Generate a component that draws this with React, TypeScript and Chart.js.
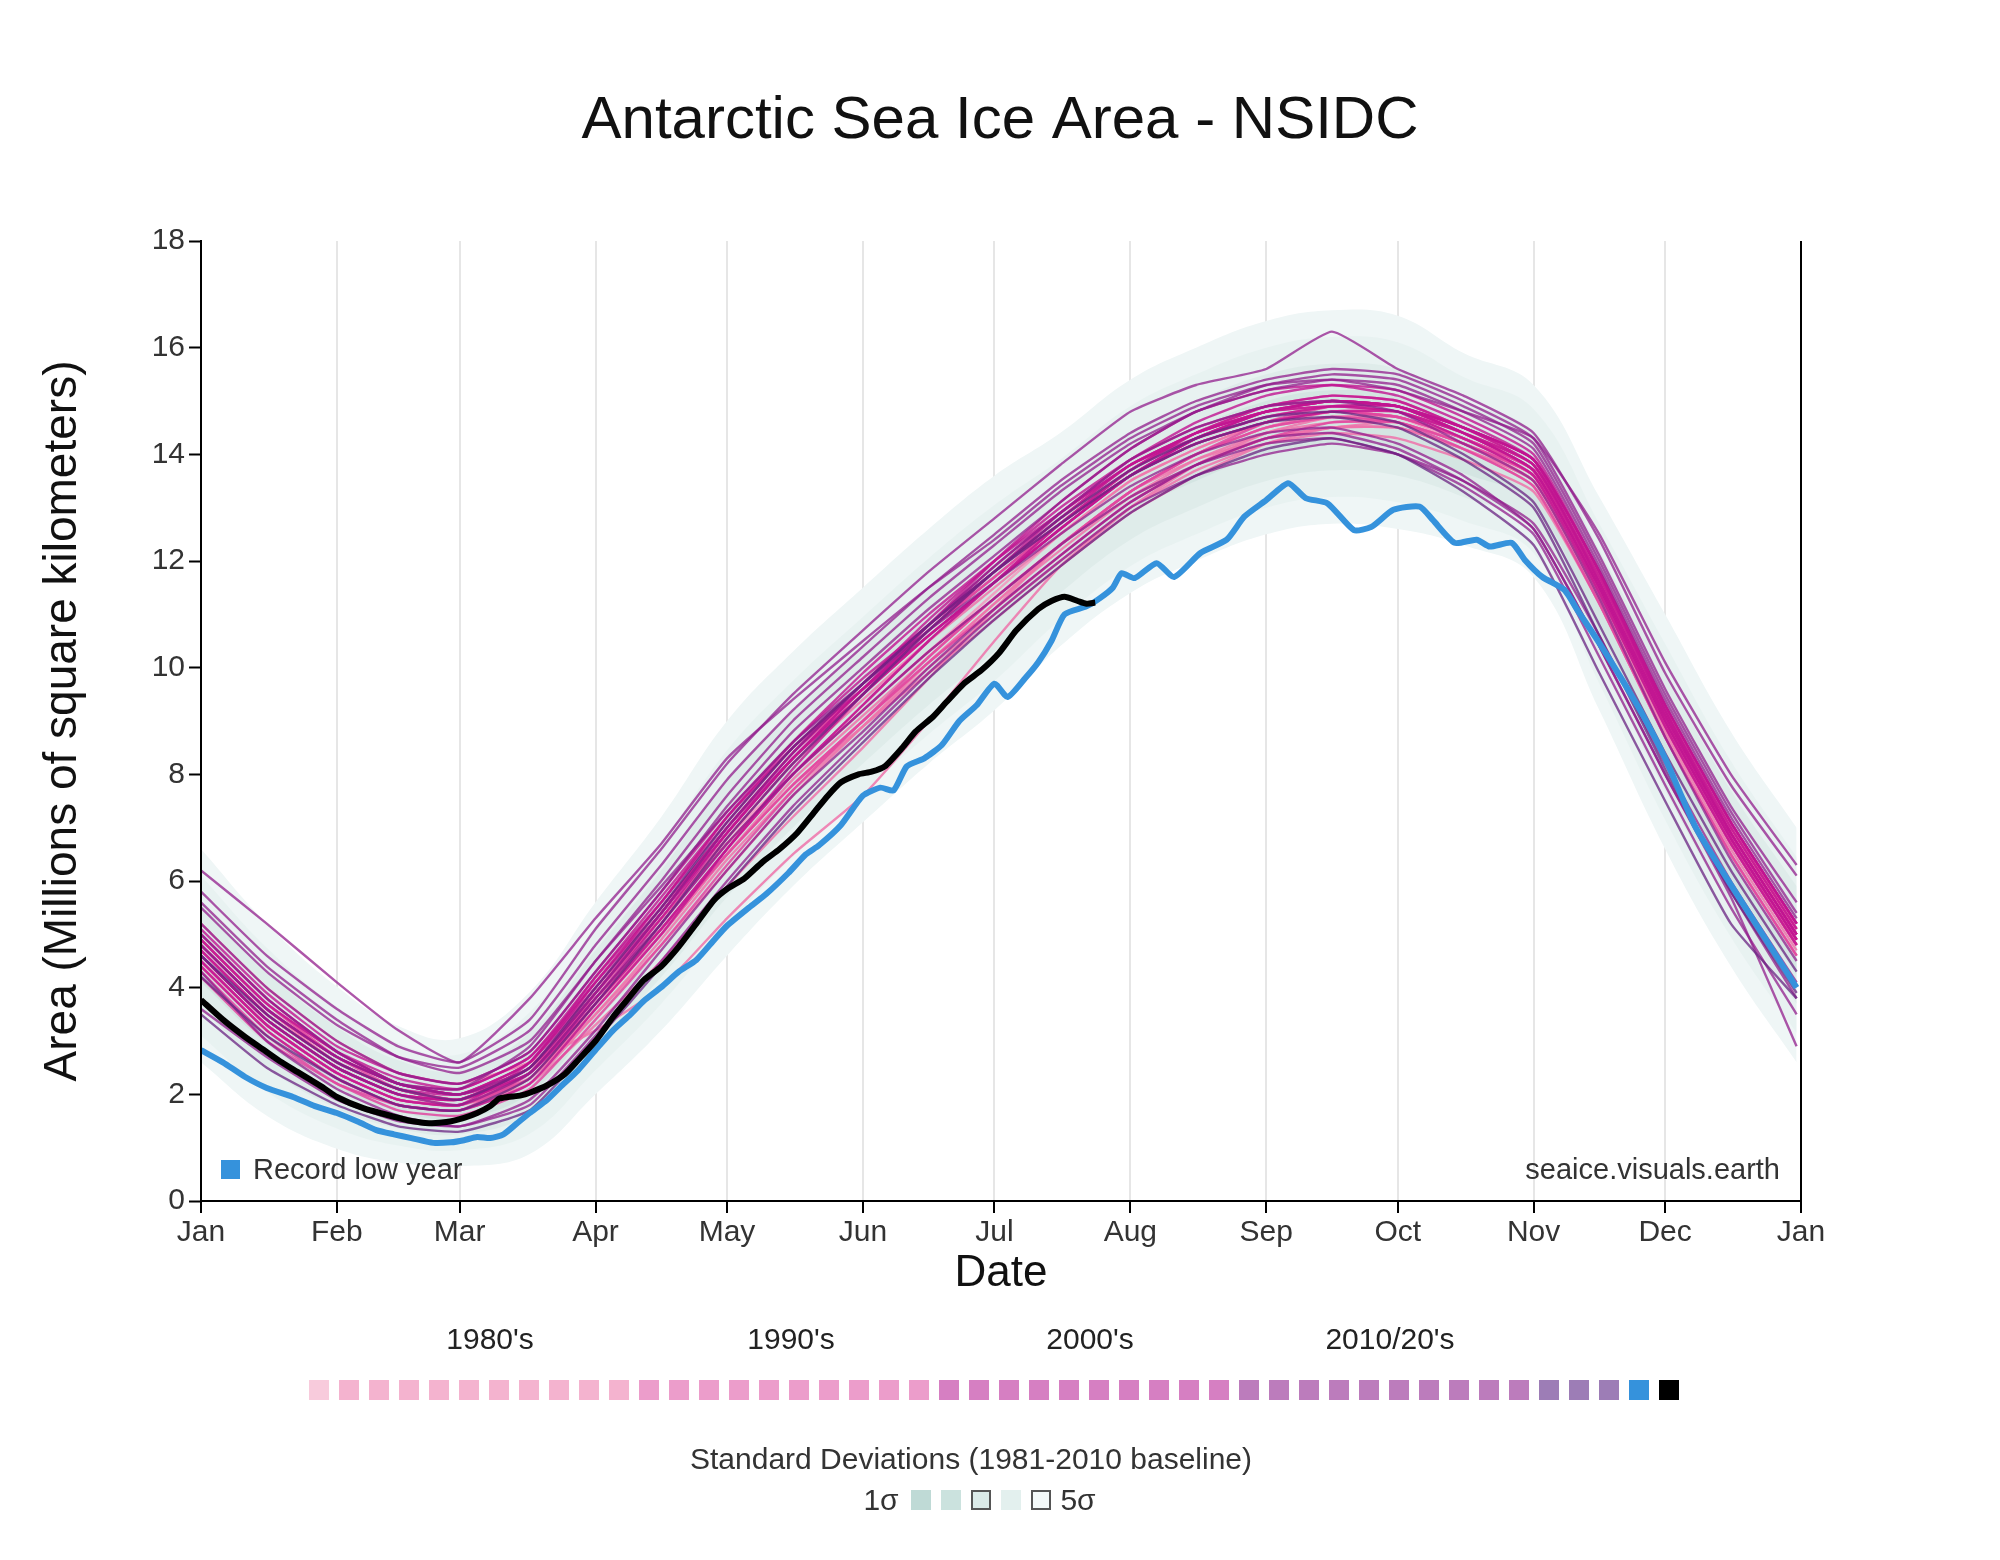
import React, { useEffect, useRef } from 'react';
import { Chart, registerables } from 'chart.js';

Chart.register(...registerables);

const FONT = "'Liberation Sans', Arial, Helvetica, sans-serif";

// ---- axis / tick data ----
const MONTH_LABELS = ['Jan', 'Feb', 'Mar', 'Apr', 'May', 'Jun', 'Jul', 'Aug', 'Sep', 'Oct', 'Nov', 'Dec', 'Jan'];
const MONTH_DAYS = [0, 31, 59, 90, 120, 151, 181, 212, 243, 273, 304, 334, 365];

// ---- sampling days for yearly series and baseline ----
const SAMPLE_DAYS = [0, 15, 31, 45, 59, 75, 90, 105, 120, 135, 151, 166, 181, 196, 212, 227, 243, 258, 273, 288, 304, 319, 334, 349, 364];

// 1981-2010 baseline mean and standard deviation (millions of km²)
const BASELINE_MEAN = [4.6, 3.4, 2.5, 2.0, 1.85, 2.4, 3.8, 5.2, 6.8, 8.1, 9.3, 10.4, 11.4, 12.4, 13.4, 14.0, 14.5, 14.7, 14.6, 14.1, 13.5, 11.2, 8.8, 6.6, 4.8];
const BASELINE_SD = [0.5, 0.45, 0.38, 0.32, 0.3, 0.38, 0.45, 0.5, 0.55, 0.55, 0.55, 0.55, 0.55, 0.5, 0.5, 0.5, 0.5, 0.5, 0.5, 0.45, 0.45, 0.5, 0.55, 0.55, 0.55];

// ---- yearly series ----
const Y1979 = [4.9, 3.7, 2.7, 2.2, 2.0, 2.5, 3.9, 5.3, 6.8, 8.0, 9.2, 10.3, 11.4, 12.5, 13.5, 14.1, 14.6, 14.8, 14.7, 14.2, 13.6, 11.5, 9.0, 6.9, 5.1];
const Y1980 = [5.2, 4.0, 3.0, 2.4, 2.2, 2.6, 3.2, 4.0, 5.3, 6.5, 7.6, 9.0, 10.5, 11.9, 13.0, 13.8, 14.4, 14.7, 14.7, 14.3, 13.7, 11.7, 9.2, 7.0, 5.2];
const Y1981 = [4.8, 3.6, 2.6, 2.1, 1.9, 2.3, 3.6, 5.0, 6.5, 7.8, 9.0, 10.1, 11.2, 12.3, 13.3, 13.9, 14.3, 14.5, 14.5, 14.1, 13.5, 11.4, 8.9, 6.7, 4.8];
const Y1982 = [4.5, 3.3, 2.4, 1.9, 1.8, 2.2, 3.3, 4.5, 5.9, 7.2, 8.5, 9.8, 11.1, 12.3, 13.3, 14.0, 14.5, 14.8, 14.7, 14.3, 13.7, 11.6, 9.1, 6.9, 5.0];
const Y1983 = [4.7, 3.5, 2.6, 2.1, 1.9, 2.4, 3.7, 5.0, 6.5, 7.9, 9.1, 10.2, 11.3, 12.3, 13.2, 13.8, 14.3, 14.5, 14.6, 14.2, 13.6, 11.5, 9.0, 6.8, 4.9];
const Y1984 = [4.6, 3.4, 2.5, 2.0, 1.8, 2.3, 3.5, 4.8, 6.2, 7.6, 8.9, 10.0, 11.0, 12.0, 13.0, 13.7, 14.2, 14.4, 14.3, 13.9, 13.3, 11.2, 8.7, 6.5, 4.6];
const Y1985 = [4.4, 3.2, 2.3, 1.8, 1.7, 2.3, 3.7, 5.2, 6.8, 8.2, 9.4, 10.5, 11.5, 12.5, 13.5, 14.1, 14.6, 14.8, 14.8, 14.4, 13.8, 11.7, 9.2, 7.0, 5.1];
const Y1986 = [5.0, 3.8, 2.8, 2.2, 2.0, 2.5, 3.8, 5.1, 6.5, 7.8, 8.9, 9.9, 10.9, 11.9, 12.9, 13.6, 14.2, 14.5, 14.5, 14.1, 13.5, 11.4, 8.9, 6.7, 4.8];
const Y1987 = [4.6, 3.4, 2.5, 2.0, 1.9, 2.5, 3.9, 5.3, 6.7, 8.0, 9.2, 10.3, 11.3, 12.3, 13.3, 14.0, 14.5, 14.7, 14.6, 14.2, 13.5, 11.3, 8.8, 6.6, 4.7];
const Y1988 = [4.5, 3.3, 2.4, 1.9, 1.8, 2.3, 3.6, 5.0, 6.5, 7.8, 9.0, 10.1, 11.1, 12.1, 13.1, 13.8, 14.3, 14.5, 14.5, 14.1, 13.4, 11.2, 8.7, 6.5, 4.6];
const Y1989 = [4.4, 3.2, 2.3, 1.8, 1.7, 2.2, 3.5, 4.9, 6.4, 7.7, 8.9, 10.1, 11.2, 12.2, 13.2, 13.9, 14.4, 14.6, 14.6, 14.2, 13.6, 11.4, 8.9, 6.7, 4.8];
const Y1990 = [4.3, 3.1, 2.2, 1.8, 1.7, 2.4, 3.9, 5.4, 7.0, 8.4, 9.6, 10.7, 11.7, 12.7, 13.6, 14.2, 14.6, 14.8, 14.7, 14.3, 13.7, 11.6, 9.1, 6.9, 5.0];
const Y1991 = [4.9, 3.7, 2.7, 2.1, 1.9, 2.4, 3.8, 5.2, 6.7, 8.0, 9.2, 10.3, 11.3, 12.3, 13.3, 14.0, 14.5, 14.7, 14.6, 14.1, 13.4, 11.2, 8.7, 6.5, 4.6];
const Y1992 = [4.2, 3.0, 2.2, 1.7, 1.6, 2.1, 3.4, 4.8, 6.3, 7.7, 9.0, 10.2, 11.3, 12.3, 13.3, 14.0, 14.6, 14.9, 14.9, 14.5, 13.9, 11.8, 9.3, 7.1, 5.2];
const Y1993 = [4.7, 3.5, 2.6, 2.1, 1.9, 2.5, 4.0, 5.5, 7.0, 8.4, 9.6, 10.7, 11.7, 12.7, 13.7, 14.4, 14.9, 15.1, 15.0, 14.5, 13.8, 11.6, 9.1, 6.8, 4.9];
const Y1994 = [4.5, 3.3, 2.4, 1.9, 1.8, 2.4, 3.9, 5.4, 6.9, 8.3, 9.5, 10.6, 11.6, 12.6, 13.6, 14.3, 14.8, 15.0, 14.9, 14.4, 13.7, 11.5, 9.0, 6.8, 4.9];
const Y1995 = [4.6, 3.4, 2.5, 2.0, 1.9, 2.5, 3.9, 5.3, 6.8, 8.2, 9.5, 10.7, 11.8, 12.8, 13.8, 14.4, 14.8, 14.9, 14.8, 14.3, 13.6, 11.4, 8.9, 6.7, 4.8];
const Y1996 = [4.8, 3.6, 2.7, 2.2, 2.0, 2.6, 4.1, 5.6, 7.2, 8.5, 9.7, 10.8, 11.8, 12.8, 13.7, 14.3, 14.7, 14.9, 14.8, 14.4, 13.8, 11.7, 9.2, 7.0, 5.1];
const Y1997 = [4.9, 3.7, 2.8, 2.2, 2.0, 2.5, 3.8, 5.1, 6.5, 7.8, 9.0, 10.1, 11.1, 12.1, 13.1, 13.8, 14.3, 14.6, 14.6, 14.2, 13.6, 11.5, 9.0, 6.8, 4.9];
const Y1998 = [4.5, 3.3, 2.4, 1.9, 1.8, 2.3, 3.7, 5.1, 6.6, 8.0, 9.3, 10.5, 11.6, 12.7, 13.7, 14.4, 14.8, 15.0, 14.9, 14.4, 13.7, 11.5, 8.9, 6.7, 4.8];
const Y1999 = [4.7, 3.5, 2.6, 2.1, 1.9, 2.5, 3.9, 5.4, 6.9, 8.3, 9.5, 10.6, 11.6, 12.6, 13.6, 14.2, 14.6, 14.8, 14.7, 14.3, 13.7, 11.6, 9.1, 6.9, 5.0];
const Y2000 = [4.8, 3.6, 2.7, 2.2, 2.1, 2.7, 4.2, 5.6, 7.1, 8.5, 9.7, 10.8, 11.8, 12.7, 13.6, 14.2, 14.6, 14.8, 14.8, 14.4, 13.8, 11.7, 9.2, 7.0, 5.1];
const Y2001 = [5.1, 3.9, 2.9, 2.4, 2.2, 2.8, 4.3, 5.8, 7.3, 8.6, 9.8, 10.8, 11.8, 12.8, 13.8, 14.3, 14.7, 14.9, 14.9, 14.5, 13.9, 11.8, 9.3, 7.1, 5.2];
const Y2002 = [5.0, 3.8, 2.8, 2.2, 2.0, 2.4, 3.7, 5.1, 6.6, 8.0, 9.3, 10.5, 11.6, 12.7, 13.7, 14.4, 14.9, 15.1, 15.0, 14.5, 13.8, 11.6, 9.1, 6.9, 5.0];
const Y2003 = [4.9, 3.7, 2.8, 2.3, 2.1, 2.7, 4.1, 5.5, 7.0, 8.3, 9.5, 10.6, 11.6, 12.6, 13.6, 14.3, 14.8, 15.0, 14.9, 14.4, 13.7, 11.5, 9.0, 6.8, 4.9];
const Y2004 = [4.6, 3.4, 2.5, 2.0, 1.9, 2.5, 3.9, 5.4, 7.0, 8.4, 9.7, 10.9, 12.0, 13.0, 13.9, 14.5, 14.9, 15.0, 14.9, 14.4, 13.7, 11.5, 9.0, 6.8, 4.9];
const Y2005 = [4.7, 3.5, 2.6, 2.1, 2.0, 2.6, 4.1, 5.6, 7.2, 8.6, 9.9, 11.0, 12.0, 12.9, 13.8, 14.4, 14.8, 15.0, 14.9, 14.5, 13.9, 11.8, 9.3, 7.1, 5.2];
const Y2006 = [4.4, 3.2, 2.3, 1.8, 1.7, 2.2, 3.6, 5.0, 6.6, 8.1, 9.5, 10.8, 12.0, 13.1, 14.1, 14.8, 15.2, 15.3, 15.1, 14.6, 13.9, 11.6, 9.1, 6.9, 5.0];
const Y2007 = [4.8, 3.6, 2.7, 2.2, 2.0, 2.6, 4.0, 5.4, 6.9, 8.3, 9.6, 10.7, 11.8, 12.9, 13.9, 14.6, 15.1, 15.3, 15.2, 14.7, 14.0, 11.8, 9.2, 6.9, 5.0];
const Y2008 = [4.5, 3.3, 2.4, 1.9, 1.8, 2.6, 4.2, 5.7, 7.2, 8.5, 9.6, 10.6, 11.6, 12.6, 13.6, 14.3, 14.8, 15.0, 14.9, 14.5, 13.9, 11.8, 9.3, 7.1, 5.2];
const Y2009 = [4.6, 3.4, 2.5, 2.0, 1.9, 2.4, 3.8, 5.3, 6.9, 8.3, 9.6, 10.8, 11.9, 12.9, 13.8, 14.4, 14.8, 14.9, 14.8, 14.3, 13.6, 11.4, 8.9, 6.7, 4.8];
const Y2010 = [5.2, 4.0, 3.0, 2.4, 2.2, 2.8, 4.3, 5.8, 7.4, 8.8, 10.0, 11.1, 12.1, 13.1, 14.1, 14.8, 15.2, 15.4, 15.3, 14.8, 14.1, 11.9, 9.4, 7.2, 5.3];
const Y2011 = [5.0, 3.8, 2.8, 2.2, 2.0, 2.5, 3.9, 5.4, 7.0, 8.4, 9.7, 10.8, 11.9, 12.9, 13.9, 14.5, 14.9, 15.0, 14.8, 14.2, 13.5, 11.3, 8.7, 6.4, 4.5];
const Y2012 = [4.8, 3.6, 2.7, 2.2, 2.1, 2.9, 4.5, 6.0, 7.6, 9.0, 10.2, 11.3, 12.3, 13.3, 14.2, 14.8, 15.3, 15.5, 15.4, 14.9, 14.2, 12.0, 9.5, 7.3, 5.4];
const Y2013 = [5.5, 4.3, 3.3, 2.7, 2.5, 3.2, 4.8, 6.3, 7.9, 9.2, 10.4, 11.5, 12.5, 13.5, 14.4, 15.0, 15.4, 15.6, 15.5, 15.0, 14.3, 12.1, 9.6, 7.4, 5.6];
const Y2014 = [5.8, 4.6, 3.6, 2.9, 2.6, 3.4, 5.1, 6.6, 8.2, 9.5, 10.7, 11.8, 12.8, 13.8, 14.8, 15.3, 15.6, 16.3, 15.6, 15.1, 14.4, 12.4, 9.9, 7.8, 6.1];
const Y2015 = [6.2, 5.2, 4.1, 3.2, 2.6, 3.8, 5.3, 6.7, 8.3, 9.4, 10.5, 11.5, 12.4, 13.4, 14.3, 14.9, 15.3, 15.4, 15.2, 14.8, 14.3, 12.5, 10.1, 8.0, 6.3];
const Y2016 = [5.6, 4.4, 3.4, 2.7, 2.4, 3.0, 4.5, 5.9, 7.3, 8.6, 9.7, 10.7, 11.6, 12.5, 13.4, 14.0, 14.4, 14.5, 14.2, 13.6, 12.6, 10.4, 8.0, 5.7, 2.9];
const Y2017 = [3.6, 2.7, 1.9, 1.5, 1.4, 1.8, 3.1, 4.5, 6.0, 7.4, 8.7, 9.9, 11.0, 12.0, 13.0, 13.6, 14.0, 14.2, 14.0, 13.5, 12.7, 10.6, 8.2, 6.0, 4.1];
const Y2018 = [4.3, 3.0, 2.1, 1.6, 1.4, 1.9, 3.2, 4.7, 6.2, 7.6, 8.8, 10.0, 11.1, 12.1, 13.1, 13.8, 14.3, 14.4, 14.1, 13.5, 12.6, 10.4, 8.0, 5.8, 3.8];
const Y2019 = [4.6, 3.4, 2.5, 2.0, 1.8, 2.4, 3.8, 5.2, 6.7, 8.0, 9.2, 10.3, 11.3, 12.3, 13.2, 13.8, 14.2, 14.3, 14.0, 13.4, 12.5, 10.2, 7.8, 5.5, 3.5];
const Y2020 = [4.2, 3.1, 2.3, 1.8, 1.7, 2.3, 3.7, 5.2, 6.8, 8.2, 9.5, 10.7, 11.8, 12.8, 13.7, 14.3, 14.7, 14.8, 14.6, 14.0, 13.1, 10.8, 8.4, 6.2, 4.3];
const Y2021 = [4.6, 3.5, 2.6, 2.1, 1.9, 2.5, 4.0, 5.5, 7.1, 8.5, 9.7, 10.8, 11.8, 12.7, 13.6, 14.2, 14.6, 14.7, 14.5, 13.9, 13.0, 10.6, 8.1, 5.8, 3.9];
const Y2022 = [3.5, 2.5, 1.8, 1.4, 1.3, 1.7, 3.0, 4.4, 5.9, 7.3, 8.6, 9.8, 10.9, 11.9, 12.9, 13.6, 14.1, 14.3, 14.0, 13.3, 12.3, 9.9, 7.5, 5.2, 3.8];

const YEARS = [1979, 1980, 1981, 1982, 1983, 1984, 1985, 1986, 1987, 1988, 1989, 1990, 1991, 1992, 1993, 1994, 1995, 1996, 1997, 1998, 1999, 2000, 2001, 2002, 2003, 2004, 2005, 2006, 2007, 2008, 2009, 2010, 2011, 2012, 2013, 2014, 2015, 2016, 2017, 2018, 2019, 2020, 2021, 2022];
const YEAR_VALUES = [Y1979, Y1980, Y1981, Y1982, Y1983, Y1984, Y1985, Y1986, Y1987, Y1988, Y1989, Y1990, Y1991, Y1992, Y1993, Y1994, Y1995, Y1996, Y1997, Y1998, Y1999, Y2000, Y2001, Y2002, Y2003, Y2004, Y2005, Y2006, Y2007, Y2008, Y2009, Y2010, Y2011, Y2012, Y2013, Y2014, Y2015, Y2016, Y2017, Y2018, Y2019, Y2020, Y2021, Y2022];

// ---- record low year (blue) ----
const RECORD_DAYS = [0, 5, 10, 15, 21, 26, 31, 36, 40, 44, 48, 53, 57, 60, 63, 66, 69, 72, 75, 79, 82, 86, 90, 94, 98, 101, 105, 109, 113, 117, 120, 125, 129, 134, 138, 141, 146, 151, 155, 158, 161, 165, 169, 173, 177, 181, 184, 188, 191, 194, 197, 202, 205, 208, 210, 213, 218, 222, 228, 234, 238, 243, 248, 252, 257, 263, 267, 272, 278, 281, 286, 291, 294, 299, 302, 306, 311, 314, 319, 324, 329, 334, 341, 350, 357, 364];
const RECORD_VALUES = [2.83, 2.6, 2.33, 2.12, 1.95, 1.78, 1.65, 1.48, 1.33, 1.25, 1.18, 1.09, 1.1, 1.14, 1.2, 1.18, 1.25, 1.45, 1.65, 1.9, 2.14, 2.45, 2.83, 3.2, 3.5, 3.75, 4.01, 4.3, 4.52, 4.89, 5.16, 5.5, 5.76, 6.15, 6.5, 6.67, 7.05, 7.6, 7.75, 7.7, 8.15, 8.3, 8.55, 9.0, 9.3, 9.7, 9.45, 9.8, 10.1, 10.5, 11.0, 11.15, 11.3, 11.5, 11.77, 11.68, 11.96, 11.7, 12.15, 12.4, 12.83, 13.14, 13.46, 13.18, 13.08, 12.58, 12.64, 12.96, 13.02, 12.77, 12.34, 12.4, 12.27, 12.34, 12.02, 11.7, 11.46, 11.08, 10.46, 9.8, 9.1, 8.3, 7.0, 5.8, 4.9, 4.0];

// ---- current year (black, partial) ----
const CURRENT_DAYS = [0, 5, 10, 14, 18, 22, 25, 28, 31, 37, 44, 48, 52, 56, 60, 63, 66, 68, 70, 73, 75, 79, 83, 86, 90, 94, 97, 101, 105, 109, 113, 117, 120, 124, 128, 132, 136, 140, 143, 146, 150, 153, 156, 160, 163, 167, 170, 174, 178, 182, 186, 191, 194, 197, 200, 202, 204];
const CURRENT_VALUES = [3.77, 3.4, 3.08, 2.85, 2.62, 2.42, 2.27, 2.12, 1.95, 1.74, 1.58, 1.5, 1.46, 1.48, 1.56, 1.65, 1.78, 1.92, 1.95, 1.98, 2.03, 2.17, 2.38, 2.64, 3.0, 3.45, 3.75, 4.14, 4.4, 4.77, 5.2, 5.64, 5.85, 6.05, 6.35, 6.6, 6.9, 7.3, 7.6, 7.85, 8.0, 8.05, 8.15, 8.5, 8.8, 9.08, 9.35, 9.7, 9.95, 10.27, 10.7, 11.1, 11.25, 11.33, 11.25, 11.2, 11.22];

// ---- legend content ----
const DECADE_LABELS = ["1980's", "1990's", "2000's", "2010/20's"];
const DECADE_LABEL_X = [490, 791, 1090, 1390];
const SIGMA_LEVELS = [4, 3, 2, 1];
const BAND_COLORS = ['#eff6f6', '#e8f2f1', '#dfecea', '#d4e5e2'];
const SIGMA_LEGEND_FILLS = ['#bfdad6', '#cbe2de', '#dbeae8', '#e3f0ee', '#f4f9f9'];
const SIGMA_LEGEND_OUTLINED = [false, false, true, false, true];

function lineColor(year: number): string {
  if (year === 1979) return 'rgba(243,150,190,0.85)';
  if (year < 1990) return 'rgba(238,115,170,0.85)';
  if (year < 2000) return 'rgba(225,70,160,0.85)';
  if (year < 2010) return 'rgba(192,20,145,0.8)';
  if (year < 2020) return 'rgba(145,30,140,0.75)';
  return 'rgba(105,35,130,0.75)';
}

function legendColor(year: number): string {
  if (year === 1979) return '#f8cbdc';
  if (year < 1990) return '#f4b3cf';
  if (year < 2000) return '#ec9dcb';
  if (year < 2010) return '#d67fc2';
  if (year < 2020) return '#bc7cbc';
  return '#9d7db6';
}

const bordersPlugin = {
  id: 'frameBorders',
  afterDraw(chart: any) {
    const { ctx, chartArea } = chart;
    ctx.save();
    ctx.strokeStyle = '#000';
    ctx.lineWidth = 2;
    ctx.beginPath();
    ctx.moveTo(chartArea.right, chartArea.top);
    ctx.lineTo(chartArea.right, chartArea.bottom + 1);
    ctx.moveTo(chartArea.left, chartArea.top);
    ctx.lineTo(chartArea.left, chartArea.bottom + 1);
    ctx.stroke();
    ctx.restore();
  },
};

const textBase: React.CSSProperties = {
  position: 'absolute',
  fontFamily: FONT,
  whiteSpace: 'nowrap',
  color: '#222',
};

export default function App() {
  const canvasRef = useRef<HTMLCanvasElement>(null);

  useEffect(() => {
    const canvas = canvasRef.current;
    if (!canvas) return;
    Chart.defaults.font.family = FONT;

    const pts = (days: number[], vals: number[]) => vals.map((v, i) => ({ x: days[i], y: v }));
    const common = { pointRadius: 0, pointHoverRadius: 0, fill: false, spanGaps: true, yAxisID: 'y' };
    const datasets: any[] = [];

    datasets.push({
      ...common,
      label: 'Current year',
      data: pts(CURRENT_DAYS, CURRENT_VALUES),
      borderColor: '#000000',
      borderWidth: 6,
      tension: 0.2,
      order: 0,
    });
    datasets.push({
      ...common,
      label: 'Record low year',
      data: pts(RECORD_DAYS, RECORD_VALUES),
      borderColor: '#3592dc',
      borderWidth: 6,
      tension: 0.2,
      order: 1,
    });
    YEAR_VALUES.forEach((vals, i) => {
      datasets.push({
        ...common,
        label: String(YEARS[i]),
        data: pts(SAMPLE_DAYS, vals),
        borderColor: lineColor(YEARS[i]),
        borderWidth: 2.4,
        tension: 0.15,
        order: 2 + (YEAR_VALUES.length - i),
      });
    });
    SIGMA_LEVELS.forEach((k, j) => {
      datasets.push({
        ...common,
        label: `+${k}σ`,
        data: pts(SAMPLE_DAYS, BASELINE_MEAN.map((m, i) => m + k * BASELINE_SD[i])),
        borderWidth: 0,
        borderColor: 'rgba(0,0,0,0)',
        backgroundColor: BAND_COLORS[j],
        fill: '+1',
        tension: 0.4,
        order: 100 + k,
      });
      datasets.push({
        ...common,
        label: `-${k}σ`,
        data: pts(SAMPLE_DAYS, BASELINE_MEAN.map((m, i) => Math.max(0, m - k * BASELINE_SD[i]))),
        borderWidth: 0,
        borderColor: 'rgba(0,0,0,0)',
        tension: 0.4,
        order: 100 + k,
      });
    });

    const chart = new Chart(canvas, {
      type: 'line',
      data: { datasets },
      plugins: [bordersPlugin],
      options: {
        responsive: false,
        animation: false,
        devicePixelRatio: 1,
        events: [],
        layout: { padding: 0 },
        plugins: {
          legend: { display: false },
          tooltip: { enabled: false },
          title: {
            display: true,
            text: 'Antarctic Sea Ice Area - NSIDC',
            color: '#111',
            font: { size: 60, weight: 'normal', family: FONT },
            padding: { top: 85, bottom: 84 },
          },
        },
        scales: {
          x: {
            type: 'linear',
            min: 0,
            max: 365,
            afterBuildTicks: (scale: any) => {
              scale.ticks = MONTH_DAYS.map((v) => ({ value: v }));
            },
            afterFit: (scale: any) => {
              scale.height = 359;
            },
            ticks: {
              autoSkip: false,
              maxRotation: 0,
              color: '#333',
              padding: 2,
              font: { size: 30, family: FONT },
              callback: (_v: any, index: number) => MONTH_LABELS[index] ?? '',
            },
            grid: {
              color: '#e6e6e6',
              lineWidth: 2,
              drawTicks: true,
              tickColor: '#000',
              tickLength: 12,
              tickWidth: 2,
            },
            border: { display: true, color: '#000', width: 2 },
            title: {
              display: true,
              text: 'Date',
              color: '#111',
              font: { size: 44, family: FONT },
              padding: { top: 0, bottom: 260 },
            },
          },
          y: {
            position: 'left',
            min: 0,
            max: 18,
            afterFit: (scale: any) => {
              scale.width = 201;
            },
            ticks: {
              stepSize: 2,
              color: '#333',
              padding: 4,
              font: { size: 30, family: FONT },
            },
            grid: {
              drawOnChartArea: false,
              drawTicks: true,
              tickColor: '#000',
              tickLength: 12,
              tickWidth: 2,
            },
            border: { display: true, color: '#000', width: 2 },
            title: {
              display: true,
              text: 'Area (Millions of square kilometers)',
              color: '#111',
              font: { size: 46, family: FONT },
              padding: { top: 36, bottom: 0 },
            },
          },
          yRight: {
            type: 'linear',
            axis: 'y',
            position: 'right',
            min: 0,
            max: 18,
            afterFit: (scale: any) => {
              scale.width = 199;
            },
            ticks: { display: false },
            grid: { display: false, drawOnChartArea: false, drawTicks: false },
            border: { display: false },
          },
        },
      } as any,
    });

    return () => chart.destroy();
  }, []);

  return (
    <div style={{ position: 'absolute', left: 0, top: 0, width: 2000, height: 1560, background: '#fff', overflow: 'hidden' }}>
      <canvas ref={canvasRef} width={2000} height={1560} style={{ position: 'absolute', left: 0, top: 0, width: 2000, height: 1560 }} />

      {/* in-plot legend for record low */}
      <div style={{ position: 'absolute', left: 221, top: 1160, width: 19, height: 19, background: '#3592dc' }} />
      <div style={{ ...textBase, left: 253, top: 1155, fontSize: 29, lineHeight: '29px', color: '#333' }}>Record low year</div>

      {/* watermark */}
      <div style={{ ...textBase, left: 1780, top: 1155, fontSize: 29, lineHeight: '29px', color: '#333', transform: 'translateX(-100%)' }}>
        seaice.visuals.earth
      </div>

      {/* decade labels */}
      {DECADE_LABELS.map((t, i) => (
        <div key={t} style={{ ...textBase, left: DECADE_LABEL_X[i], top: 1324, fontSize: 30, lineHeight: '30px', transform: 'translateX(-50%)' }}>
          {t}
        </div>
      ))}

      {/* year color squares */}
      {YEARS.map((y, i) => (
        <div key={y} style={{ position: 'absolute', left: 309 + 30 * i, top: 1380, width: 20, height: 20, background: legendColor(y) }} />
      ))}
      <div style={{ position: 'absolute', left: 309 + 30 * YEARS.length, top: 1380, width: 20, height: 20, background: '#3592dc' }} />
      <div style={{ position: 'absolute', left: 309 + 30 * (YEARS.length + 1), top: 1380, width: 20, height: 20, background: '#000' }} />

      {/* standard deviations legend */}
      <div style={{ ...textBase, left: 971, top: 1444, fontSize: 30, lineHeight: '30px', color: '#333', transform: 'translateX(-50%)' }}>
        Standard Deviations (1981-2010 baseline)
      </div>
      <div style={{ ...textBase, left: 881, top: 1485, fontSize: 30, lineHeight: '30px', color: '#333', transform: 'translateX(-50%)' }}>1σ</div>
      {SIGMA_LEGEND_FILLS.map((c, i) => (
        <div
          key={i}
          style={{
            position: 'absolute',
            left: 911 + 30 * i,
            top: 1490,
            width: 20,
            height: 20,
            boxSizing: 'border-box',
            background: c,
            border: SIGMA_LEGEND_OUTLINED[i] ? '2px solid #555' : 'none',
          }}
        />
      ))}
      <div style={{ ...textBase, left: 1078, top: 1485, fontSize: 30, lineHeight: '30px', color: '#333', transform: 'translateX(-50%)' }}>5σ</div>
    </div>
  );
}
